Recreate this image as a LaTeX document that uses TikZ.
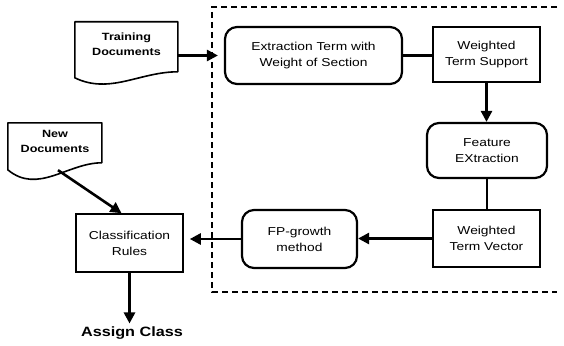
\documentclass[tikz,border=0pt]{standalone}
\usepackage{fontspec}
\setmainfont{Liberation Sans}[FakeStretch=1.2]
\usetikzlibrary{arrows.meta,calc}
\tikzset{
  txt/.style={font=\fontsize{11.5}{16}\selectfont, align=center},
  rbox/.style={txt, draw, line width=2.2pt, rounded corners=12pt, inner sep=0pt},
  sbox/.style={txt, draw, line width=1.6pt, inner sep=0pt},
  doctext/.style={font=\fontsize{10.5}{15}\bfseries\selectfont, align=center, inner sep=0pt},
  docline/.style={line width=1.6pt, line join=round},
  link/.style={line width=2.2pt},
  arr/.style={line width=2.6pt, -{Triangle[length=11pt,width=11pt]}},
  frame/.style={line width=1.2pt, dash pattern=on 6pt off 4pt}
}
\begin{document}
\begin{tikzpicture}[x=1pt,y=-1pt]
\useasboundingbox (0,0) rectangle (564,345);
% dashed frame (open on the right)
\draw[frame] (557,7) -- (212,7) -- (212,292) -- (557,292);
% nodes
\node[rbox, minimum width=177pt, minimum height=57pt] (ext) at (313.5,55.5) {Extraction Term with\\Weight of Section};
\node[sbox, minimum width=107pt, minimum height=55pt] (wts) at (486.5,54.5) {Weighted\\Term Support};
\node[rbox, minimum width=120pt, minimum height=55pt] (fe) at (487,150.5) {Feature\\EXtraction};
\node[sbox, minimum width=107pt, minimum height=57pt] (wtv) at (486.5,238.5) {Weighted\\Term Vector};
\node[rbox, minimum width=115pt, minimum height=58pt] (fp) at (299.5,239) {FP-growth\\method};
\node[sbox, minimum width=107pt, minimum height=58pt] (cr) at (129.5,243) {Classification\\Rules};
\node[font=\fontsize{13.5}{16}\bfseries\selectfont, inner sep=0pt] (assign) at (132,333) {Assign Class};
% document shapes
\node[doctext, minimum width=103pt, minimum height=45pt] (train) at (126.5,44.5) {Training\\Documents};
\draw[docline, shift={(train.north west)}] (0,0) -- (103,0) -- (103,50) .. controls (65,50) and (35,73) .. (0,56) -- cycle;
\node[doctext, minimum width=94pt, minimum height=36pt] (new) at (55,141) {New\\Documents};
\draw[docline, shift={(new.north west)}] (0,0) -- (94,0) -- (94,40) .. controls (60,40) and (30,72) .. (0,47) -- cycle;
% connectors
\draw[arr, shorten >=6pt] (ext.west -| train.east) -- (ext.west);
\draw[link] (ext.east) -- (ext.east -| wts.west);
\draw[arr] (wts.south) -- (wts.south |- fe.north);
\draw[link] (fe.south) -- (fe.south |- wtv.north);
\draw[arr] (wtv.west) -- (wtv.west -| fp.east);
\draw[arr, shorten >=6pt] (fp.west) -- (fp.west -| cr.east);
\draw[arr] ($(new.south)+(3,11)$) -- ($(cr.north)+(-8,0)$);
\draw[arr, shorten >=3pt] (cr.south) -- (cr.south |- assign.north);
\end{tikzpicture}
\end{document}
